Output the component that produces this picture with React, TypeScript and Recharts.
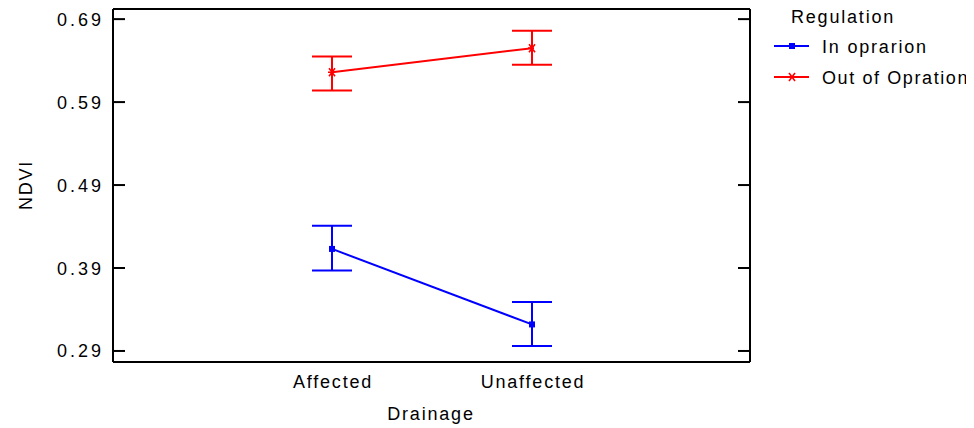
import React from 'react';
import { LineChart, Line, XAxis, YAxis, ErrorBar, Legend, CartesianGrid } from 'recharts';

const drainage = ['Affected', 'Unaffected'];
const inOperationMean = [0.413, 0.322];
const inOperationLow = [0.387, 0.296];
const inOperationHigh = [0.441, 0.349];
const outOperationMean = [0.626, 0.655];
const outOperationLow = [0.604, 0.635];
const outOperationHigh = [0.645, 0.676];
const yTicks = [0.29, 0.39, 0.49, 0.59, 0.69];
const seriesNames = ['In oprarion', 'Out of Opration'];
const legendTitle = 'Regulation';

const data = drainage.map((d, i) => ({
  drainage: d,
  inOp: inOperationMean[i],
  inOpErr: [inOperationMean[i] - inOperationLow[i], inOperationHigh[i] - inOperationMean[i]],
  outOp: outOperationMean[i],
  outOpErr: [outOperationMean[i] - outOperationLow[i], outOperationHigh[i] - outOperationMean[i]],
}));

const FONT = '"Liberation Sans", Arial, sans-serif';
const BLUE = '#0000ff';
const RED = '#ff0000';
const FS = 18;
const LS = 1.8;

const YTick = (props: any) => {
  const { y, payload } = props;
  return (
    <g>
      <line x1={105} x2={117} y1={y} y2={y} stroke="#000" strokeWidth={2} />
      <line x1={730} x2={742} y1={y} y2={y} stroke="#000" strokeWidth={2} />
      <text x={96} y={y + 6.5} textAnchor="end" fontFamily={FONT} fontSize={FS} letterSpacing={3} fill="#000">
        {Number(payload.value).toFixed(2)}
      </text>
    </g>
  );
};

const XTick = (props: any) => {
  const { x, payload } = props;
  return (
    <text x={x + 1} y={380} textAnchor="middle" fontFamily={FONT} fontSize={FS} letterSpacing={LS} fill="#000">
      {payload.value}
    </text>
  );
};

const SquareDot = (props: any) => {
  const { cx, cy, key } = props;
  if (cx == null || cy == null) return <g key={key} />;
  return <rect key={key} x={cx - 3} y={cy - 3} width={6} height={6} fill={BLUE} />;
};

const StarDot = (props: any) => {
  const { cx, cy, key } = props;
  if (cx == null || cy == null) return <g key={key} />;
  return (
    <g key={key} stroke={RED} strokeWidth={1.6}>
      <line x1={cx - 3} y1={cy - 4} x2={cx + 3} y2={cy + 4} />
      <line x1={cx - 3} y1={cy + 4} x2={cx + 3} y2={cy - 4} />
      <line x1={cx - 4} y1={cy} x2={cx + 2} y2={cy} />
    </g>
  );
};

const LegendContent = () => (
  <svg width={966} height={90} style={{ display: 'block', overflow: 'visible' }}>
    <text x={783} y={15} fontFamily={FONT} fontSize={FS} letterSpacing={LS} fill="#000">{legendTitle}</text>
    <line x1={766} x2={801} y1={38} y2={38} stroke={BLUE} strokeWidth={2} />
    <rect x={781} y={35} width={6} height={6} fill={BLUE} />
    <text x={814} y={44.5} fontFamily={FONT} fontSize={FS} letterSpacing={LS} fill="#000">{seriesNames[0]}</text>
    <line x1={766} x2={801} y1={69} y2={69} stroke={RED} strokeWidth={2} />
    <g stroke={RED} strokeWidth={1.6}>
      <line x1={781} y1={65} x2={787} y2={73} />
      <line x1={781} y1={73} x2={787} y2={65} />
    </g>
    <text x={814} y={75.5} fontFamily={FONT} fontSize={FS} letterSpacing={1.6} fill="#000">{seriesNames[1]}</text>
  </svg>
);

export default function App() {
  return (
    <LineChart
      width={966}
      height={420}
      data={data}
      margin={{ top: 1, right: 224, bottom: 0, left: 0 }}
    >
      <CartesianGrid
        horizontalPoints={[1]}
        verticalPoints={[742]}
        stroke="#000"
        strokeWidth={2}
        strokeDasharray=""
      />
      <XAxis
        dataKey="drainage"
        height={66}
        padding={{ left: 219, right: 218 }}
        axisLine={{ stroke: '#000', strokeWidth: 2 }}
        tickLine={false}
        tick={<XTick />}
        interval={0}
        label={{
          content: () => (
            <text x={423} y={412} textAnchor="middle" fontFamily={FONT} fontSize={FS} letterSpacing={LS} fill="#000">
              Drainage
            </text>
          ),
        }}
      />
      <YAxis
        type="number"
        width={105}
        domain={[0.2767, 0.7022]}
        ticks={yTicks}
        allowDataOverflow
        axisLine={{ stroke: '#000', strokeWidth: 2 }}
        tickLine={false}
        tick={<YTick />}
        interval={0}
        label={{
          content: () => (
            <text x={24} y={177} transform="rotate(-90 24 177)" textAnchor="middle" fontFamily={FONT} fontSize={FS} letterSpacing={LS} fill="#000">
              NDVI
            </text>
          ),
        }}
      />
      <Legend
        layout="vertical"
        align="center"
        verticalAlign="middle"
        wrapperStyle={{ position: 'absolute', left: 0, top: 0, width: 966, height: 90 }}
        content={<LegendContent />}
      />
      <Line
        dataKey="inOp"
        stroke={BLUE}
        strokeWidth={2}
        dot={SquareDot}
        activeDot={false}
        isAnimationActive={false}
      >
        <ErrorBar dataKey="inOpErr" direction="y" width={20} stroke={BLUE} strokeWidth={2} isAnimationActive={false} />
      </Line>
      <Line
        dataKey="outOp"
        stroke={RED}
        strokeWidth={2}
        dot={StarDot}
        activeDot={false}
        isAnimationActive={false}
      >
        <ErrorBar dataKey="outOpErr" direction="y" width={20} stroke={RED} strokeWidth={2} isAnimationActive={false} />
      </Line>
    </LineChart>
  );
}
